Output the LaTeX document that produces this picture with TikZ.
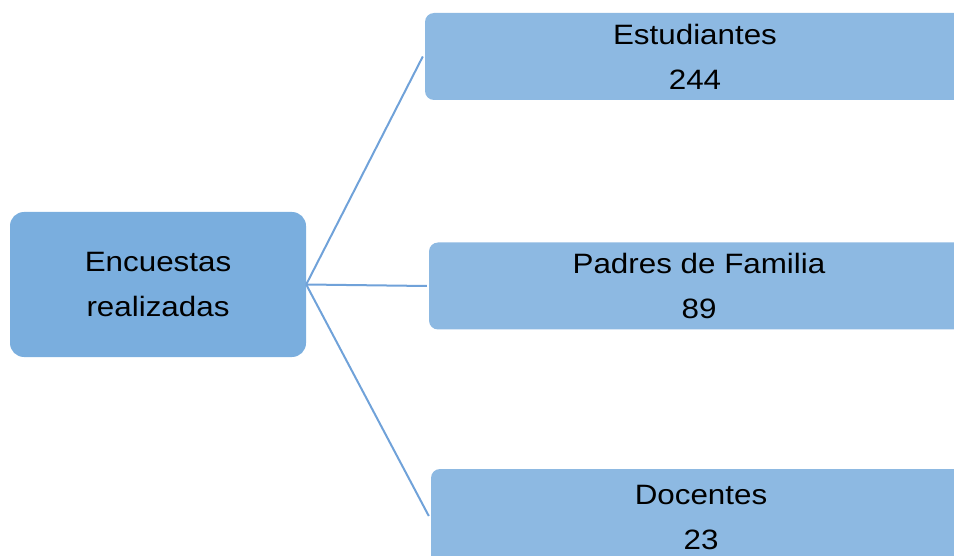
\documentclass[tikz,border=0pt]{standalone}
\usepackage{fontspec}
\setmainfont[FakeStretch=1.12]{Liberation Sans}
\usepackage{xcolor}
\usepackage{tikz}
\usetikzlibrary{positioning, calc}

\definecolor{hubblue}{HTML}{7AAEDE}
\definecolor{leafblue}{HTML}{8DB9E2}
\definecolor{linkblue}{HTML}{70A2D9}

\tikzset{
  hubbox/.style={fill=hubblue, rounded corners=14pt, inner sep=0pt,
    minimum width=296pt, minimum height=145pt, align=center,
    font=\fontsize{28}{45}\selectfont},
  leafbox/.style={fill=leafblue, rounded corners=9pt, inner sep=0pt,
    minimum width=540pt, minimum height=87pt, align=center,
    font=\fontsize{28}{45}\selectfont},
  link/.style={draw=linkblue, line width=2pt}
}

\begin{document}
\begin{tikzpicture}[x=1pt, y=-1pt]
    \useasboundingbox (0,0) rectangle (954,556);
    \begin{scope}
    \clip (0,0) rectangle (954,556);

    % Root
    \node[hubbox] (encuestas) at (158,284.5) {Encuestas\\realizadas};

    % Branches
    \node[leafbox] (estudiantes) at (695,56.5) {Estudiantes\\244};
    \node[leafbox] (padres) at (699,286) {Padres de Familia\\89};
    \node[leafbox, minimum height=98pt] (docentes) at (701,518) {Docentes\\23};

    % Links
    \draw[link] (encuestas.east) -- ([xshift=-2pt]estudiantes.west);
    \draw[link] (encuestas.east) -- ([xshift=-2pt]padres.west);
    \draw[link] (encuestas.east) -- ([xshift=-2pt,yshift=2pt]docentes.west);
    \end{scope}
\end{tikzpicture}
\end{document}
